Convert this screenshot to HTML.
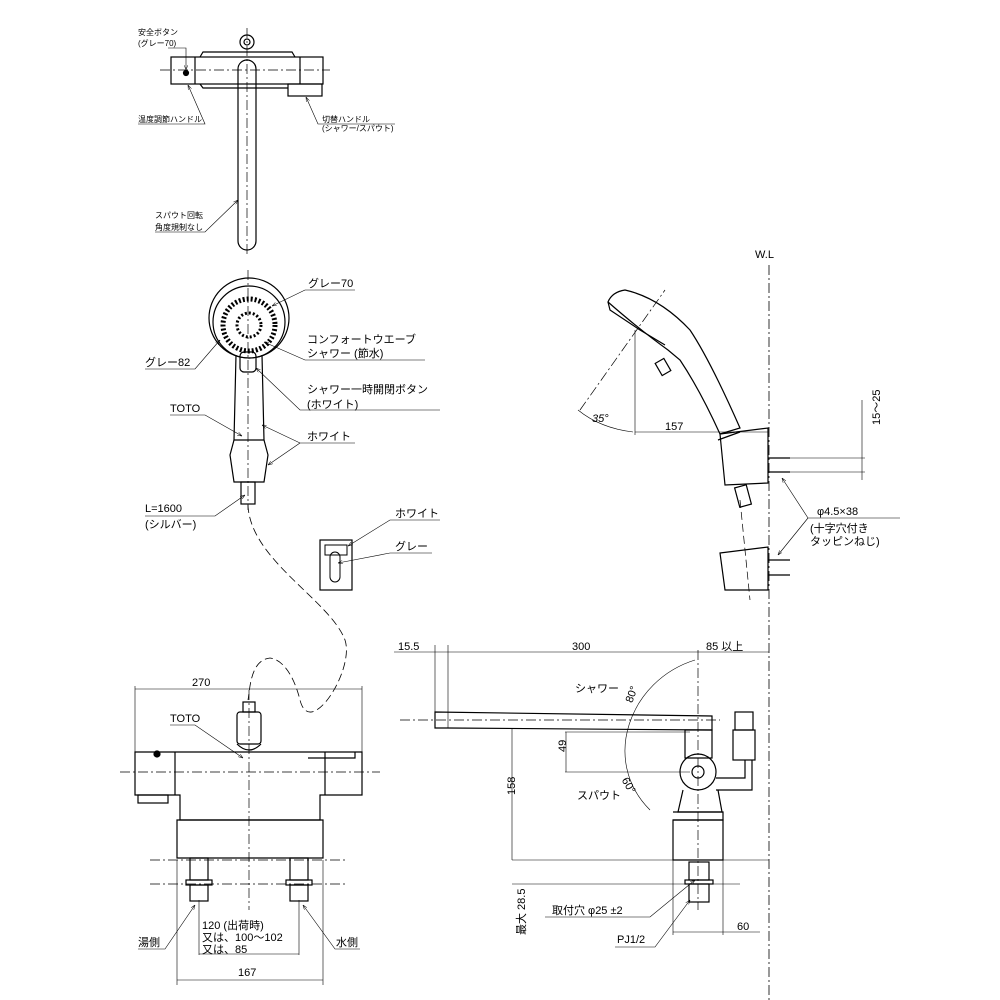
<!DOCTYPE html>
<html><head><meta charset="utf-8"><style>
html,body{margin:0;padding:0;background:#fff}
svg{display:block}
text{font-family:"Liberation Sans","Noto Sans CJK JP",sans-serif;fill:#000}
.s{font-size:8px}
.m{font-size:11px}
</style></head><body>
<svg width="1000" height="1000" viewBox="0 0 1000 1000" xmlns="http://www.w3.org/2000/svg" fill="none" stroke="#000" stroke-width="1">
<defs><marker id="a" markerWidth="8" markerHeight="6" refX="8" refY="3" orient="auto"><path d="M0,0 L8,3 L0,6" stroke="#000" fill="none" stroke-width="0.8"/></marker></defs>

<!-- TOP VIEW -->
<g stroke-width="1.2">
<rect x="171" y="57" width="152" height="27"/>
<line x1="195" y1="57" x2="195" y2="84"/><line x1="300" y1="57" x2="300" y2="84"/>
<path d="M200,57 L203,52 L292,52 L295,57"/>
<path d="M200,84 L203,88 L288,88"/>
<rect x="288" y="84" width="34" height="12"/>
<rect x="238" y="60" width="18" height="190" rx="9"/>
<circle cx="247" cy="42" r="7"/><circle cx="247" cy="42" r="3"/>
<circle cx="186" cy="73" r="2.5" fill="#000"/>
</g>
<line x1="160" y1="70" x2="330" y2="70" stroke-dasharray="10,3,2,3" stroke-width="0.7"/>
<line x1="247" y1="28" x2="247" y2="255" stroke-dasharray="10,3,2,3" stroke-width="0.7"/>
<text class="s" x="138" y="35" stroke="none">安全ボタン</text>
<text class="s" x="138" y="46" stroke="none">(グレー70)</text>
<path d="M168,48 L186,48 L186,70" stroke-width="0.6" marker-end="url(#a)"/>
<text class="s" x="138" y="122" stroke="none">温度調節ハンドル</text>
<path d="M138,124 L205,124 L188,85" stroke-width="0.6" marker-end="url(#a)"/>
<text class="s" x="322" y="122" stroke="none">切替ハンドル</text>
<text class="s" x="322" y="131" stroke="none">(シャワー/スパウト)</text>
<path d="M395,124 L318,124 L306,97" stroke-width="0.6" marker-end="url(#a)"/>
<text class="s" x="155" y="218" stroke="none">スパウト回転</text>
<text class="s" x="155" y="230" stroke="none">角度規制なし</text>
<path d="M155,232 L205,232 L238,200" stroke-width="0.6" marker-end="url(#a)"/>

<!-- HAND SHOWER FRONT -->
<g stroke-width="1.2">
<circle cx="249" cy="318" r="40"/>
<circle cx="249" cy="322" r="36"/>
<circle cx="249" cy="325" r="26" stroke-dasharray="2,2" stroke-width="5"/>
<circle cx="249" cy="325" r="12" stroke-dasharray="2,2" stroke-width="3"/>
<path d="M236,355 L234,440 L264,440 L262,355"/>
<rect x="240" y="352" width="16" height="20" rx="4"/>
<path d="M234,440 L230,455 L234,482 L264,482 L268,455 L264,440"/>
<rect x="241" y="482" width="14" height="22"/>
</g>
<line x1="248" y1="270" x2="248" y2="510" stroke-dasharray="10,3,2,3" stroke-width="0.7"/>
<text class="m" x="308" y="287" stroke="none">グレー70</text>
<path d="M355,290 L305,290 L272,306" stroke-width="0.6" marker-end="url(#a)"/>
<text class="m" x="307" y="343" stroke="none">コンフォートウエーブ</text>
<text class="m" x="307" y="357" stroke="none">シャワー (節水)</text>
<path d="M425,360 L305,360 L264,342" stroke-width="0.6" marker-end="url(#a)"/>
<text class="m" x="145" y="366" stroke="none">グレー82</text>
<path d="M145,369 L195,369 L220,340" stroke-width="0.6" marker-end="url(#a)"/>
<text class="m" x="307" y="393" stroke="none">シャワー一時開閉ボタン</text>
<text class="m" x="307" y="408" stroke="none">(ホワイト)</text>
<path d="M440,410 L300,410 L256,368" stroke-width="0.6" marker-end="url(#a)"/>
<text class="m" x="170" y="412" stroke="none">TOTO</text>
<path d="M170,415 L205,415 L242,436" stroke-width="0.6" marker-end="url(#a)"/>
<text class="m" x="307" y="440" stroke="none">ホワイト</text>
<path d="M355,443 L300,443 L262,425" stroke-width="0.6" marker-end="url(#a)"/>
<path d="M300,443 L268,465" stroke-width="0.6" marker-end="url(#a)"/>
<text class="m" x="145" y="512" stroke="none">L=1600</text>
<text class="m" x="145" y="528" stroke="none">(シルバー)</text>
<path d="M145,516 L215,516 L245,495" stroke-width="0.6" marker-end="url(#a)"/>

<!-- small holder -->
<rect x="320" y="540" width="32" height="50" stroke-width="1.2"/>
<rect x="325" y="545" width="22" height="10"/>
<rect x="330" y="552" width="10" height="30" rx="5"/>
<text class="m" x="395" y="517" stroke="none">ホワイト</text>
<path d="M440,520 L390,520 L348,546" stroke-width="0.6" marker-end="url(#a)"/>
<text class="m" x="395" y="550" stroke="none">グレー</text>
<path d="M432,553 L390,553 L338,563" stroke-width="0.6" marker-end="url(#a)"/>

<!-- hose dashed -->
<path d="M248,505 C250,560 330,600 345,640 C355,670 310,740 300,700 C295,680 285,660 270,658 C250,660 250,690 248,700" stroke-dasharray="8,4" stroke-width="0.8"/>

<!-- FRONT VIEW -->
<g stroke-width="1.2">
<path d="M135,752 L362,752 L362,795 L320,795 L320,820 L180,820 L180,795 L135,795 Z"/>
<line x1="175" y1="752" x2="175" y2="795"/><line x1="325" y1="752" x2="325" y2="795"/>
<rect x="138" y="795" width="30" height="8"/>
<path d="M177,820 L323,820 L323,858 L177,858 Z"/>
<rect x="190" y="858" width="18" height="22"/><rect x="186" y="880" width="26" height="5"/><rect x="190" y="885" width="18" height="16"/>
<rect x="290" y="858" width="18" height="22"/><rect x="286" y="880" width="26" height="5"/><rect x="290" y="885" width="18" height="16"/>
<rect x="237" y="712" width="24" height="32" rx="3"/>
<rect x="243" y="702" width="12" height="10"/>
<path d="M237,744 Q249,756 261,744"/>
<path d="M308,758 L355,758 L355,752"/>
<circle cx="157" cy="754" r="3" fill="#000"/>
</g>
<line x1="249" y1="690" x2="249" y2="910" stroke-dasharray="10,3,2,3" stroke-width="0.7"/>
<line x1="120" y1="772" x2="380" y2="772" stroke-dasharray="10,3,2,3" stroke-width="0.7"/>
<line x1="150" y1="860" x2="345" y2="860" stroke-dasharray="10,3,2,3" stroke-width="0.7"/>
<line x1="150" y1="884" x2="345" y2="884" stroke-dasharray="10,3,2,3" stroke-width="0.7"/>
<line x1="135" y1="686" x2="135" y2="752" stroke-width="0.6"/><line x1="362" y1="686" x2="362" y2="752" stroke-width="0.6"/>
<line x1="135" y1="689" x2="362" y2="689" stroke-width="0.6"/>
<text class="m" x="192" y="686" stroke="none">270</text>
<text class="m" x="170" y="722" stroke="none">TOTO</text>
<path d="M170,725 L195,725 L243,758" stroke-width="0.6" marker-end="url(#a)"/>
<line x1="199" y1="900" x2="199" y2="955" stroke-width="0.6"/><line x1="299" y1="900" x2="299" y2="955" stroke-width="0.6"/>
<line x1="199" y1="954" x2="299" y2="954" stroke-width="0.6"/>
<text class="m" x="202" y="929" stroke="none">120 (出荷時)</text>
<text class="m" x="202" y="941" stroke="none">又は、100～102</text>
<text class="m" x="202" y="953" stroke="none">又は、85</text>
<line x1="177" y1="860" x2="177" y2="985" stroke-width="0.6"/><line x1="323" y1="860" x2="323" y2="985" stroke-width="0.6"/>
<line x1="177" y1="980" x2="323" y2="980" stroke-width="0.6"/>
<text class="m" x="238" y="976" stroke="none">167</text>
<text class="m" x="138" y="946" stroke="none">湯側</text>
<path d="M138,949 L165,949 L195,905" stroke-width="0.6" marker-end="url(#a)"/>
<text class="m" x="336" y="946" stroke="none">水側</text>
<path d="M360,949 L335,949 L303,905" stroke-width="0.6" marker-end="url(#a)"/>

<!-- SIDE VIEW -->
<line x1="769" y1="265" x2="769" y2="1000" stroke-dasharray="10,3,2,3" stroke-width="0.8"/>
<text class="m" x="755" y="258" stroke="none">W.L</text>
<g stroke-width="1.2">
<path d="M435,712 L712,716 L712,730 L448,728 L435,728 Z"/>
<path d="M685,730 L712,730 L712,758 L685,758 Z"/>
<circle cx="698" cy="772" r="18"/><circle cx="698" cy="772" r="6"/>
<path d="M683,790 L678,812 L722,812 L718,790"/>
<path d="M673,820 L723,820 L723,860 L673,860 Z"/>
<path d="M673,812 L723,812 L723,820 L673,820"/>
<rect x="689" y="862" width="20" height="18"/><rect x="685" y="880" width="28" height="4"/><rect x="689" y="884" width="20" height="18"/>
<rect x="735" y="712" width="18" height="18"/><rect x="733" y="730" width="22" height="30"/>
<path d="M716,778 L745,778 L745,760 M716,790 L752,790 L752,760"/>
</g>
<line x1="698" y1="650" x2="698" y2="910" stroke-dasharray="10,3,2,3" stroke-width="0.7"/>
<line x1="400" y1="720" x2="720" y2="720" stroke-dasharray="10,3,2,3" stroke-width="0.7"/>
<line x1="394" y1="652" x2="769" y2="652" stroke-width="0.6"/>
<line x1="435" y1="645" x2="435" y2="712" stroke-width="0.6"/><line x1="448" y1="645" x2="448" y2="728" stroke-width="0.6"/>
<text class="m" x="398" y="650" stroke="none">15.5</text>
<text class="m" x="572" y="650" stroke="none">300</text>
<text class="m" x="706" y="650" stroke="none">85 以上</text>
<text class="m" x="575" y="692" stroke="none">シャワー</text>
<text class="m" x="577" y="799" stroke="none">スパウト</text>
<path d="M695,660 C630,680 600,760 650,810" stroke-width="0.6"/>
<text class="m" x="627" y="700" stroke="none" transform="rotate(-70 632 698)">80°</text>
<text class="m" x="622" y="785" stroke="none" transform="rotate(60 626 782)">60°</text>
<line x1="565" y1="732" x2="690" y2="732" stroke-width="0.6"/><line x1="565" y1="772" x2="690" y2="772" stroke-width="0.6"/>
<line x1="566" y1="732" x2="566" y2="772" stroke-width="0.6"/>
<text class="m" x="562" y="756" stroke="none" transform="rotate(-90 562 752)">49</text>
<line x1="512" y1="728" x2="512" y2="860" stroke-width="0.6"/>
<text class="m" x="510" y="800" stroke="none" transform="rotate(-90 510 795)">158</text>
<line x1="512" y1="860" x2="769" y2="860" stroke-width="0.6"/>
<line x1="512" y1="884" x2="740" y2="884" stroke-width="0.6"/>
<text class="m" x="510" y="950" stroke="none" transform="rotate(-90 510 935)">最大 28.5</text>
<text class="m" x="552" y="914" stroke="none">取付穴 φ25 ±2</text>
<path d="M545,917 L650,917 L695,880" stroke-width="0.6" marker-end="url(#a)"/>
<text class="m" x="617" y="943" stroke="none">PJ1/2</text>
<path d="M615,947 L655,947 L690,900" stroke-width="0.6" marker-end="url(#a)"/>
<line x1="673" y1="860" x2="673" y2="935" stroke-width="0.6"/><line x1="723" y1="860" x2="723" y2="935" stroke-width="0.6"/>
<line x1="673" y1="932" x2="760" y2="932" stroke-width="0.6"/>
<text class="m" x="737" y="930" stroke="none">60</text>

<!-- SIDE SHOWER -->
<g stroke-width="1.2">
<path d="M608,302 Q612,292 625,290 Q660,298 690,330 Q710,360 740,428 L720,434 Q700,390 680,360 L668,350 Q640,330 608,302 Z"/>
<path d="M608,302 L610,310 L640,330 L665,345"/>
<rect x="658" y="360" width="10" height="14" transform="rotate(-30 663 367)"/>
<path d="M720,434 L768,428 L768,483 L725,485 Z"/>
<path d="M718,440 L740,432"/>
<rect x="737" y="486" width="12" height="20" transform="rotate(-15 743 496)"/>
<path d="M720,553 L768,547 L768,590 L725,590 Z"/>
<line x1="768" y1="458" x2="790" y2="458"/><line x1="768" y1="472" x2="790" y2="472"/>
<line x1="768" y1="560" x2="790" y2="560"/><line x1="768" y1="575" x2="790" y2="575"/>
</g>
<line x1="740" y1="500" x2="750" y2="600" stroke-dasharray="8,4" stroke-width="0.7"/>
<line x1="580" y1="410" x2="665" y2="290" stroke-dasharray="10,3,2,3" stroke-width="0.7"/>
<line x1="635" y1="330" x2="635" y2="435" stroke-width="0.6"/>
<line x1="635" y1="432" x2="768" y2="432" stroke-width="0.6"/>
<text class="m" x="665" y="430" stroke="none">157</text>
<path d="M578,410 Q600,428 633,432" stroke-width="0.6"/>
<text class="m" x="592" y="422" stroke="none" font-style="italic">35°</text>
<line x1="790" y1="458" x2="865" y2="458" stroke-width="0.6"/><line x1="790" y1="472" x2="865" y2="472" stroke-width="0.6"/>
<line x1="862" y1="400" x2="862" y2="480" stroke-width="0.6"/>
<text class="m" x="860" y="445" stroke="none" transform="rotate(-90 860 425)">15～25</text>
<text class="m" x="817" y="515" stroke="none">φ4.5×38</text>
<line x1="808" y1="518" x2="900" y2="518" stroke-width="0.6"/>
<text class="m" x="810" y="532" stroke="none">(十字穴付き</text>
<text class="m" x="810" y="545" stroke="none">タッピンねじ)</text>
<path d="M808,518 L782,478" stroke-width="0.6" marker-end="url(#a)"/>
<path d="M808,518 L778,555" stroke-width="0.6" marker-end="url(#a)"/>
</svg>
</body></html>
